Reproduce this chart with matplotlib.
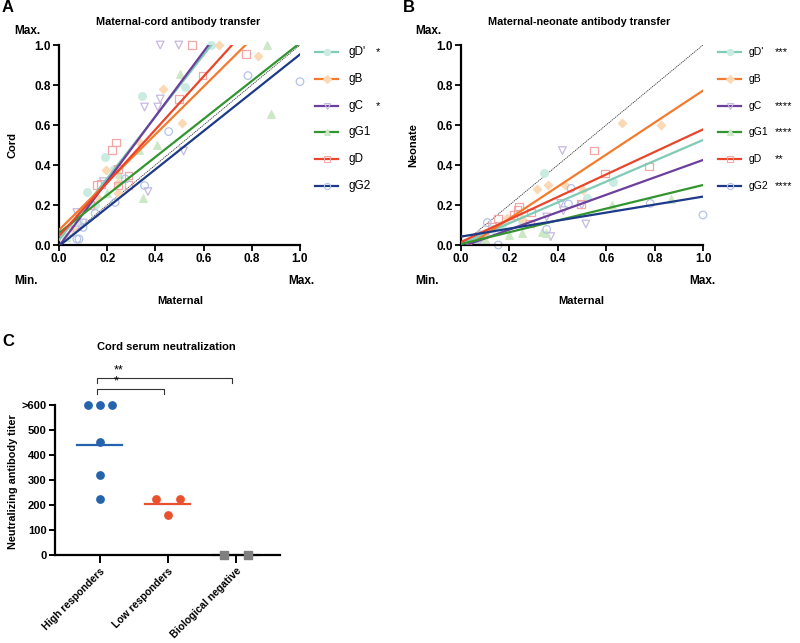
import numpy as np
import matplotlib.pyplot as plt

plt.rcParams['font.family'] = ['Liberation Sans', 'DejaVu Sans']

# antigens, same order in every list below
antigens = ["gD'", 'gB', 'gC', 'gG1', 'gD', 'gG2']
line_colors = ['#7fcbb5', '#f47b2e', '#6b3f9b', '#32952f', '#e9452a', '#1c3a87']
point_colors = ['#c9ebe2', '#fcd9b5', '#c6b9e0', '#cce8c6', '#f4a7a7', '#b4c3e6']
markers = ['o', 'D', 'v', '^', 's', 'o']
filled = [True, True, False, True, False, False]

# A: maternal vs cord (normalised)
cord_maternal = [
    [0.03, 0.08, 0.118, 0.15, 0.191, 0.23, 0.344, 0.524, 0.632],
    [0.06, 0.163, 0.195, 0.246, 0.246, 0.33, 0.43, 0.51, 0.664, 0.827],
    [0.067, 0.074, 0.10, 0.184, 0.355, 0.369, 0.41, 0.42, 0.42, 0.497, 0.517],
    [0.03, 0.2, 0.247, 0.334, 0.347, 0.406, 0.503, 0.864, 0.88],
    [0.129, 0.157, 0.175, 0.219, 0.237, 0.244, 0.244, 0.288, 0.288, 0.497, 0.552, 0.596, 0.777],
    [0.074, 0.083, 0.10, 0.15, 0.233, 0.275, 0.355, 0.455, 0.784, 1.0],
]
cord_values = [
    [0.04, 0.12, 0.263, 0.2, 0.442, 0.38, 0.747, 0.788, 1.0],
    [0.08, 0.233, 0.375, 0.312, 0.258, 0.517, 0.778, 0.608, 1.0, 0.945],
    [0.075, 0.162, 0.11, 0.317, 0.69, 0.267, 0.69, 0.73, 1.0, 1.0, 0.47],
    [0.04, 0.26, 0.353, 0.475, 0.233, 0.50, 0.855, 1.0, 0.655],
    [0.20, 0.30, 0.305, 0.475, 0.513, 0.38, 0.297, 0.347, 0.30, 0.73, 1.0, 0.847, 0.955],
    [0.03, 0.03, 0.088, 0.158, 0.213, 0.33, 0.297, 0.567, 0.847, 0.817],
]
cord_slope = [1.543, 1.195, 1.62, 0.95, 1.33, 0.958]
cord_intercept = [0.025, 0.075, -0.005, 0.06, 0.045, -0.005]
cord_stars = ['*', '', '*', '', '', '']

# B: maternal vs neonate (normalised)
neo_maternal = [
    [0.06, 0.1, 0.13, 0.17, 0.25, 0.343, 0.52, 0.63],
    [0.1, 0.19, 0.25, 0.314, 0.358, 0.428, 0.504, 0.667, 0.828],
    [0.075, 0.086, 0.1, 0.354, 0.371, 0.412, 0.419, 0.423, 0.499, 0.516],
    [0.1, 0.2, 0.25, 0.335, 0.35, 0.624, 0.868],
    [0.08, 0.129, 0.154, 0.217, 0.233, 0.24, 0.286, 0.289, 0.497, 0.549, 0.594, 0.778],
    [0.08, 0.109, 0.154, 0.354, 0.444, 0.455, 0.782, 1.0],
]
neo_values = [
    [0.03, 0.05, 0.08, 0.1, 0.12, 0.358, 0.235, 0.317],
    [0.06, 0.133, 0.13, 0.278, 0.30, 0.30, 0.275, 0.612, 0.60],
    [0.02, 0.033, 0.04, 0.14, 0.042, 0.208, 0.472, 0.172, 0.20, 0.105],
    [0.03, 0.05, 0.06, 0.065, 0.06, 0.2, 0.23],
    [0.05, 0.092, 0.133, 0.15, 0.175, 0.192, 0.108, 0.162, 0.205, 0.472, 0.358, 0.392],
    [0.05, 0.112, 0.0, 0.078, 0.205, 0.283, 0.208, 0.15],
]
neo_slope = [0.52, 0.80, 0.435, 0.295, 0.563, 0.20]
neo_intercept = [0.005, -0.028, -0.01, 0.005, 0.015, 0.042]
neo_stars = ['***', '', '****', '****', '**', '****']

# C: cord serum neutralization
groups = ['High responders', 'Low responders', 'Biological negative']
group_colors = ['#2563ad', '#e8512e', '#7f7f7f']
group_markers = ['o', 'o', 's']
high_titer = [600, 600, 600, 452, 320, 226]
low_titer = [226, 226, 160]
neg_titer = [0, 0]
group_means = [440, 203, 0]
titer_ticks = [0, 100, 200, 300, 400, 500, 600]
titer_labels = ['0', '100', '200', '300', '400', '500', '>600']


def px(x, y):
    return x / 800, 1 - y / 643


def draw_transfer(ax, xs, ys, slopes, intercepts, stars, text_x, star_x, leg_size):
    ax.plot([0, 1], [0, 1], color='#333333', lw=0.6, ls=(0, (1.5, 1)), zorder=1)
    for i in range(len(antigens)):
        fc = point_colors[i] if filled[i] else 'none'
        ax.scatter(xs[i], ys[i], marker=markers[i], s=30 if markers[i] != 'D' else 18,
                   facecolors=fc, edgecolors=point_colors[i], linewidths=0.9,
                   clip_on=False, zorder=2)
    xx = np.array([0.0, 1.0])
    for i in range(len(antigens)):
        ax.plot(xx, intercepts[i] + slopes[i] * xx, color=line_colors[i], lw=1.6, zorder=3)
    ax.set_xlim(0, 1)
    ax.set_ylim(0, 1)
    ticks = np.arange(0, 1.01, 0.2)
    ax.set_xticks(ticks)
    ax.set_yticks(ticks)
    ax.set_xticklabels([f'{t:.1f}' for t in ticks], fontweight='bold', fontsize=8.5)
    ax.set_yticklabels([f'{t:.1f}' for t in ticks], fontweight='bold', fontsize=8.5)
    ax.tick_params(width=1.3, length=4, pad=2)
    for s in ['top', 'right']:
        ax.spines[s].set_visible(False)
    for s in ['left', 'bottom']:
        ax.spines[s].set_linewidth(1.6)

    # legend drawn by hand to keep the star column
    for i, name in enumerate(antigens):
        y = 0.965 - i * 0.134
        ax.plot([1.064, 1.158], [y, y], transform=ax.transAxes, color=line_colors[i],
                lw=1.6, clip_on=False)
        fc = point_colors[i] if filled[i] else 'none'
        ax.plot([1.111], [y], transform=ax.transAxes, marker=markers[i], ms=4.5,
                mfc=fc, mec=point_colors[i], mew=0.8, clip_on=False)
        ax.text(text_x, y, name, transform=ax.transAxes, fontsize=leg_size, va='center')
        ax.text(star_x, y, stars[i], transform=ax.transAxes, fontsize=8, va='center')


fig = plt.figure(figsize=(8, 6.43), dpi=100)

axA = fig.add_axes([59 / 800, 1 - 245 / 643, 241 / 800, 200 / 643])
draw_transfer(axA, cord_maternal, cord_values, cord_slope, cord_intercept, cord_stars,
              1.20, 1.315, 8.5)
axB = fig.add_axes([461 / 800, 1 - 245 / 643, 242 / 800, 200 / 643])
draw_transfer(axB, neo_maternal, neo_values, neo_slope, neo_intercept, neo_stars,
              1.19, 1.298, 7.5)

for (x0, title, ylab) in [(0, 'Maternal-cord antibody transfer', 'Cord'),
                          (401, 'Maternal-neonate antibody transfer', 'Neonate')]:
    fig.text(*px(x0 + 2, 8), 'AB'[x0 > 0], fontsize=12, fontweight='bold', va='center')
    fig.text(*px(x0 + 178, 22), title, fontsize=7.8, fontweight='bold',
             ha='center', va='center')
    fig.text(*px(x0 + 27, 31), 'Max.', fontsize=8.5, fontweight='bold', ha='center', va='center')
    fig.text(*px(x0 + 26, 281), 'Min.', fontsize=8.5, fontweight='bold', ha='center', va='center')
    fig.text(*px(x0 + 301, 281), 'Max.', fontsize=8.5, fontweight='bold', ha='center', va='center')
    fig.text(*px(x0 + 180, 301), 'Maternal', fontsize=8, fontweight='bold', ha='center', va='center')
    fig.text(*px(x0 + 12, 145), ylab, fontsize=8, fontweight='bold', rotation=90,
             ha='center', va='center')

# panel C
axC = fig.add_axes([55 / 800, 1 - 555 / 643, 225 / 800, 150 / 643])
axC.set_xlim(-0.66, 2.65)
axC.set_ylim(0, 600)
offsets = [[-0.18, 0, 0.18, 0, 0, 0], [-0.18, 0.18, 0], [-0.18, 0.18]]
for g, vals in enumerate([high_titer, low_titer, neg_titer]):
    xs = [g + o for o in offsets[g]]
    axC.scatter(xs, vals, marker=group_markers[g], s=28, color=group_colors[g],
                clip_on=False, zorder=3)
    axC.plot([g - 0.33, g + 0.33], [group_means[g]] * 2, color=group_colors[g], lw=1.6,
             clip_on=False, zorder=2)
axC.set_yticks(titer_ticks)
axC.set_yticklabels(titer_labels, fontweight='bold', fontsize=8)
axC.set_xticks(range(len(groups)))
axC.set_xticklabels(groups, rotation=45, ha='right', rotation_mode='anchor',
                    fontsize=7.5, fontweight='bold')
axC.tick_params(width=1.4, length=4, pad=2)
axC.tick_params(axis='x', length=6)
for s in ['top', 'right']:
    axC.spines[s].set_visible(False)
for s in ['left', 'bottom']:
    axC.spines[s].set_linewidth(1.6)

# significance brackets
for (x1, top, text, tx) in [(0.94, 664, '*', 0.235), (1.94, 708, '**', 0.28)]:
    axC.plot([-0.04, -0.04, x1, x1], [top - 20, top, top, top - 20], color='#333333',
             lw=0.8, clip_on=False)
    axC.text(tx, top + 6, text, fontsize=9, ha='center', va='bottom')

fig.text(*px(2, 342), 'C', fontsize=12, fontweight='bold', va='center')
fig.text(*px(166, 347), 'Cord serum neutralization', fontsize=8, fontweight='bold',
         ha='center', va='center')
fig.text(*px(13, 482), 'Neutralizing antibody titer', fontsize=7.8, fontweight='bold',
         rotation=90, ha='center', va='center')

fig.savefig('out.png', dpi=100)
